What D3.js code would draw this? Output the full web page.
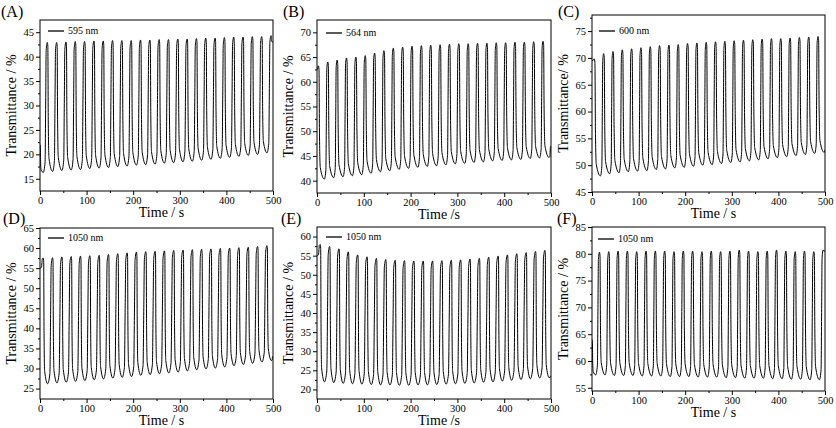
<!DOCTYPE html>
<html>
<head>
<meta charset="utf-8">
<script src="https://cdn.jsdelivr.net/npm/d3@7"></script>
<style>
  body { margin: 0; background: #fff; }
  text { font-family: "Liberation Serif", "Times New Roman", serif; fill: #000; }
</style>
</head>
<body>
<svg id="chart" width="836" height="428"></svg>
<script>
// start of every 20 s switching cycle
const cycleStart = [0, 20, 40, 60, 80, 100, 120, 140, 160, 180, 200, 220, 240, 260, 280, 300, 320, 340, 360, 380, 400, 420, 440, 460, 480];
const timeTicks = [0, 100, 200, 300, 400, 500];

// (A) 595 nm
const highsA = [42.9, 42.9, 43.0, 43.1, 43.1, 43.2, 43.2, 43.3, 43.3, 43.3, 43.4, 43.4, 43.5, 43.5, 43.6, 43.6, 43.7, 43.8, 43.8, 43.9, 44.0, 44.0, 44.1, 44.1, 44.3];
const lowsA = [16.3, 16.5, 16.7, 16.8, 16.9, 17.1, 17.2, 17.3, 17.5, 17.6, 17.8, 17.9, 18.0, 18.2, 18.3, 18.5, 18.6, 18.8, 19.0, 19.2, 19.4, 19.6, 19.8, 20.0, 20.3];
const ticksA = [15, 20, 25, 30, 35, 40, 45];

// (B) 564 nm
const highsB = [63.2, 64.0, 64.4, 64.8, 65.0, 65.3, 65.8, 66.3, 66.8, 67.0, 67.2, 67.3, 67.4, 67.5, 67.6, 67.7, 67.7, 67.8, 67.8, 67.9, 67.9, 68.0, 68.0, 68.1, 68.2];
const lowsB = [40.3, 40.6, 40.8, 41.0, 41.2, 41.5, 41.8, 42.0, 42.3, 42.5, 42.7, 42.9, 43.0, 43.2, 43.4, 43.5, 43.7, 43.8, 44.0, 44.1, 44.2, 44.3, 44.5, 44.6, 44.7];
const ticksB = [40, 45, 50, 55, 60, 65, 70];

// (C) 600 nm
const highsC = [69.8, 70.8, 71.2, 71.5, 71.7, 71.9, 72.1, 72.3, 72.4, 72.5, 72.7, 72.8, 72.9, 73.0, 73.1, 73.2, 73.3, 73.4, 73.5, 73.6, 73.6, 73.7, 73.8, 73.9, 74.0];
const lowsC = [48.0, 48.4, 48.6, 48.8, 48.9, 49.0, 49.2, 49.3, 49.5, 49.6, 49.8, 50.0, 50.1, 50.3, 50.5, 50.6, 50.8, 51.0, 51.2, 51.4, 51.6, 51.8, 52.0, 52.2, 52.4];
const ticksC = [45, 50, 55, 60, 65, 70, 75];

// (D) 1050 nm
const highsD = [57.5, 57.6, 57.8, 57.9, 58.0, 58.1, 58.2, 58.4, 58.6, 58.8, 59.0, 59.1, 59.2, 59.3, 59.4, 59.5, 59.6, 59.7, 59.8, 59.9, 60.0, 60.1, 60.2, 60.4, 60.6];
const lowsD = [26.2, 26.4, 26.6, 26.8, 27.0, 27.2, 27.4, 27.6, 27.8, 28.0, 28.3, 28.5, 28.7, 28.9, 29.1, 29.4, 29.7, 29.9, 30.1, 30.4, 30.7, 31.0, 31.3, 31.6, 32.0];
const ticksD = [25, 30, 35, 40, 45, 50, 55, 60, 65];

// (E) 1050 nm
const highsE = [57.9, 57.4, 56.8, 56.0, 55.2, 54.7, 54.3, 54.0, 53.8, 53.7, 53.6, 53.6, 53.6, 53.7, 53.8, 53.9, 54.1, 54.3, 54.6, 54.9, 55.2, 55.5, 55.8, 56.1, 56.4];
const lowsE = [22.0, 21.8, 21.6, 21.5, 21.4, 21.3, 21.2, 21.2, 21.1, 21.1, 21.2, 21.2, 21.3, 21.4, 21.5, 21.6, 21.7, 21.9, 22.0, 22.2, 22.4, 22.6, 22.8, 23.0, 23.1];
const ticksE = [20, 25, 30, 35, 40, 45, 50, 55, 60];

// (F) 1050 nm
const highsF = [80.3, 80.4, 80.5, 80.5, 80.4, 80.5, 80.5, 80.5, 80.4, 80.5, 80.5, 80.4, 80.5, 80.4, 80.5, 80.7, 80.5, 80.4, 80.5, 80.7, 80.5, 80.4, 80.5, 80.4, 80.7];
const lowsF = [57.4, 57.4, 57.3, 57.3, 57.3, 57.2, 57.2, 57.2, 57.1, 57.1, 57.1, 57.0, 57.0, 57.0, 56.9, 56.9, 56.8, 56.8, 56.8, 56.7, 56.7, 56.6, 56.6, 56.5, 56.5];
const ticksF = [55, 60, 65, 70, 75, 80, 85];

// shape of one switching edge: [fraction of time, fraction of change]
const riseShape = [[0, 0], [0.45, 0.08], [0.6, 0.55], [0.72, 0.94], [1, 1]];
const fallShape = [[0, 0], [0.1, 0.03], [0.18, 0.6], [0.32, 0.9], [1, 1]];

const panels = [
  { tag: "(A)", tagX: 1, tagY: 17, legend: "595 nm", highs: highsA, lows: lowsA, peakOff: 15.7, troughOff: 7, start: 22, end: 43,
    yDomain: [12.5, 47.5], yTicks: ticksA, box: [40, 20, 273, 191], yTitle: "Transmittance / %", xTitle: "Time / s", leg: [48, 31] },
  { tag: "(B)", tagX: 283, tagY: 17, legend: "564 nm", highs: highsB, lows: lowsB, peakOff: 3, troughOff: 15.7, start: 62.5, end: 47,
    yDomain: [37.5, 72.5], yTicks: ticksB, box: [317, 20, 551, 193], yTitle: "Transmittance / %", xTitle: "Time /s", leg: [326, 33] },
  { tag: "(C)", tagX: 558, tagY: 17, legend: "600 nm", highs: highsC, lows: lowsC, peakOff: 5, troughOff: 18, start: 69.5, end: 52.8,
    yDomain: [45, 78], yTicks: ticksC, box: [592, 15, 825, 192], yTitle: "Transmittance/ %", xTitle: "Time / s", leg: [599, 31] },
  { tag: "(D)", tagX: 3, tagY: 224, legend: "1050 nm", highs: highsD, lows: lowsD, peakOff: 7, troughOff: 16.4, start: 55, end: 33,
    yDomain: [22.4, 65], yTicks: ticksD, box: [40, 228, 273, 399], yTitle: "Transmittance / %", xTitle: "Time / s", leg: [48, 238] },
  { tag: "(E)", tagX: 281, tagY: 224, legend: "1050 nm", highs: highsE, lows: lowsE, peakOff: 7, troughOff: 16, start: 55, end: 23.5,
    yDomain: [17.5, 62.5], yTicks: ticksE, box: [317, 227, 551, 399], yTitle: "Transmittance / %", xTitle: "Time /s", leg: [326, 237] },
  { tag: "(F)", tagX: 557, tagY: 224, legend: "1050 nm", highs: highsF, lows: lowsF, peakOff: 16, troughOff: 8, start: 64, end: 80.5,
    yDomain: [54.4, 85], yTicks: ticksF, box: [592, 227, 825, 391], yTitle: "Transmittance / %", xTitle: "Time / s", leg: [598, 239] }
];

// turn the read peaks and troughs into points along time
function buildSeries(p) {
  const ext = [{ t: 0, v: p.start }, { t: 500, v: p.end }];
  cycleStart.forEach((c, k) => {
    ext.push({ t: c + p.peakOff, v: p.highs[k] });
    ext.push({ t: c + p.troughOff, v: p.lows[k] });
  });
  const keep = ext.filter(e => e.t >= 0 && e.t <= 500).sort((a, b) => a.t - b.t);
  const pts = [];
  for (let i = 0; i < keep.length - 1; i++) {
    const a = keep[i], b = keep[i + 1];
    const shape = b.v >= a.v ? riseShape : fallShape;
    shape.slice(0, -1).forEach(([ft, fv]) => {
      pts.push([a.t + ft * (b.t - a.t), a.v + fv * (b.v - a.v)]);
    });
  }
  const last = keep[keep.length - 1];
  pts.push([last.t, last.v]);
  return pts;
}

const svg = d3.select("#chart");

panels.forEach((p, i) => {
  const [x0, y0, x1, y1] = p.box;
  const x = d3.scaleLinear().domain([0, 500]).range([x0, x1]);
  const y = d3.scaleLinear().domain(p.yDomain).range([y1, y0]);
  const g = svg.append("g");

  const clipId = "clip" + i;
  g.append("clipPath").attr("id", clipId)
    .append("rect").attr("x", x0).attr("y", y0).attr("width", x1 - x0).attr("height", y1 - y0);

  const line = d3.line().x(d => x(d[0])).y(d => y(d[1])).curve(d3.curveMonotoneX);
  g.append("path")
    .datum(buildSeries(p))
    .attr("clip-path", `url(#${clipId})`)
    .attr("fill", "none")
    .attr("stroke", "#000")
    .attr("stroke-width", 1)
    .attr("d", line);

  // minor ticks
  const minorX = d3.range(50, 500, 100);
  const minorY = p.yTicks.map(v => v + 2.5).filter(v => v < p.yDomain[1]);
  g.append("g").attr("transform", `translate(0,${y1})`)
    .call(d3.axisBottom(x).tickValues(minorX).tickSize(2).tickFormat(""))
    .call(a => a.select(".domain").remove());
  g.append("g").attr("transform", `translate(${x0},0)`)
    .call(d3.axisLeft(y).tickValues(minorY).tickSize(2).tickFormat(""))
    .call(a => a.select(".domain").remove());

  // major axes
  const xa = g.append("g").attr("transform", `translate(0,${y1})`)
    .call(d3.axisBottom(x).tickValues(timeTicks).tickSize(4).tickPadding(2));
  const ya = g.append("g").attr("transform", `translate(${x0},0)`)
    .call(d3.axisLeft(y).tickValues(p.yTicks).tickSize(4).tickPadding(2));
  [xa, ya].forEach(a => {
    a.select(".domain").remove();
    a.selectAll("text").style("font-family", '"Liberation Serif", serif').style("font-size", "10.5px");
  });

  g.append("rect")
    .attr("x", x0).attr("y", y0).attr("width", x1 - x0).attr("height", y1 - y0)
    .attr("fill", "none").attr("stroke", "#000").attr("stroke-width", 1);

  // legend
  g.append("line")
    .attr("x1", p.leg[0]).attr("x2", p.leg[0] + 16)
    .attr("y1", p.leg[1]).attr("y2", p.leg[1])
    .attr("stroke", "#000").attr("stroke-width", 1.3);
  g.append("text")
    .attr("x", p.leg[0] + 20).attr("y", p.leg[1] + 3)
    .style("font-size", "10px")
    .text(p.legend);

  // titles
  g.append("text")
    .attr("x", (x0 + x1) / 2 + 5).attr("y", y1 + 26)
    .attr("text-anchor", "middle")
    .style("font-size", "14px")
    .text(p.xTitle);
  g.append("text")
    .attr("transform", `translate(${x0 - 24},${(y0 + y1) / 2}) rotate(-90)`)
    .attr("text-anchor", "middle")
    .style("font-size", "14px")
    .text(p.yTitle);
  g.append("text")
    .attr("x", p.tagX).attr("y", p.tagY)
    .style("font-size", "16px")
    .text(p.tag);
});
</script>
</body>
</html>
